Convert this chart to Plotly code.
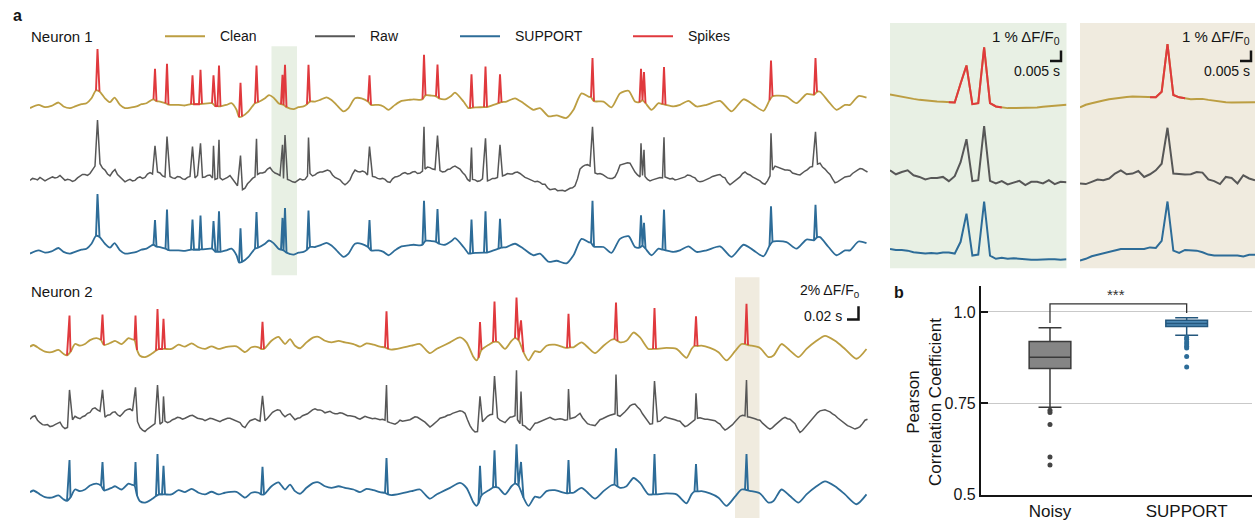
import plotly.graph_objects as go

W, H = 1255, 527
GOLD = "#BC9E42"
RED = "#E0393D"
GRAY = "#575757"
BLUE = "#2D6C98"
GREEN_BG = "#E8F0E4"
BEIGE_BG = "#F0EBDF"
FONT = "Liberation Sans, Arial, sans-serif"
INK = "#151515"

# ---------------- Neuron 1 (time in ms, signal in a.u.) ----------------
n1_t = [0,17,30,43,57,67,80,90,103,113,123,132,139,150,160,169,180,190,203,213,
        223,233,243,247,253,260,271,277,297,310,322,328,338,344,360,364,371,375,381,393,
        403,413,418,424,437,447,450,456,470,478,487,497,502,507,513,527,537,547,554,560,
        570,580,593,603,613,627,637,650,663,676,682,697,707,717,730,743,757,767,780,785,
        791,803,812,818,830,843,850,867,877,880,886,893,908,914,927,937,943,953,970,987,
        1007,1020,1037,1053,1073,1087,1103,1117,1122,1128,1147,1163,1180,1197,1210,1219,1225,1231,1243,1257,
        1265,1271,1287,1300,1317,1333,1353,1380,1403,1427,1447,1467,1479,1485,1493,1513,1533,1553,1568,1574,
        1580,1597,1613,1630,1640,1657,1673]
n1_clean = [15,18.3,16,17.3,20.7,16.7,15,16.7,19,20,25,33,32,25,21,25.7,18.3,15,15.7,16.7,
            19,20,23.3,24,22,21.7,20,18.5,18.3,17.7,19,19,19,19.3,20,20,17,17,16.7,18.3,
            20,13.3,6,6.5,11.7,18.3,20,21,25,28.3,25.7,20,19,18.3,16,14,16,16.7,19,21.7,
            21.7,23.3,26,23.3,18.3,11.7,15,25,25,21.7,18.3,18.3,16.7,13.3,18.3,22.3,23.3,24,23.3,24,
            28,27.7,27,25,24,27.7,30.7,21.7,15,15,15.5,15.7,16,16,18.3,20,21,21.7,25,20,
            13.3,15,6.7,7.7,5,13.3,30,26.7,26,22,21.7,15.7,30,32.7,21.7,21,23,20,13.3,20,
            19,18.3,16.7,18.3,22.3,16.7,18.3,22.3,11.7,24,18.3,12.3,23,27,27.7,26.7,20,29.3,28.5,31.5,
            31.7,21.7,13.3,18.3,18.3,27.3,25.7]
n1_spk_t = [135,250,274,325,341,367,378,421,453,505,510,557,679,788,815,883,911,940,1125,1222,1228,1268,1482,1571]
n1_spk_clean = [75,55,60,48.3,54,48.3,58.3,40.7,58.3,49,59,59,48.3,69.3,59.3,49.3,57.3,49.3,66,55,51.7,56.7,63.3,66]
n1_spk_raw = [77,50.7,60,50,53.3,50.7,56.7,40.7,57.7,51.7,61.7,59,50,70,61,49,58.3,51.7,70,53.3,46.7,59.3,63.3,65]
n1_spk_support = [75.7,49,59.7,49.7,53.7,48,58,40.7,57.3,51.3,61.3,58.7,49,68.7,60.3,49.7,58,50.3,68.7,54,46.3,59.7,63,64.7]
n1_raw_t = list(range(0, 1680, 5))
n1_raw = [15.5,17.5,17,16,18.5,17,15,16.5,17.5,19,18,18.5,20.5,17.5,15.5,16.5,16,14.5,15.5,18,
          19.5,21.5,21.5,20.5,22.5,27,30,32,32.5,28,26,22,20,24,26.5,21.5,19,15.5,14,15.5,
          16.5,15,15.5,18,19,17.5,18.5,22,23.5,22,22.5,24,23,20,19,20.5,19.5,18,17.5,19.5,
          19,17,16.5,18.5,19.5,17.5,18,20.5,20,18.5,19,20.5,21,18,16.5,17.5,18,16,17,18.5,
          20.5,17,14.5,10,7,6,7.5,12,14.5,17.5,19,21.5,23,23,24,27,28.5,25,23,22,
          20.5,18,16.5,16.5,15.5,14,13.5,15.5,17,16,16.5,20,22.5,20,21,23,24,24,25,26,
          25,21,18.5,17.5,16,13,11,13,16,22,26,24.5,24,25,24,21,18.5,19.5,19,17.5,
          17,17.5,16.5,14,13.5,17,19,19.5,20.5,22.5,23.5,22,22.5,24,24.5,22.5,23,25,27,29,
          28.5,27,26.5,26.5,25.5,24,24.5,26.5,27,29,30,28.5,27,23.5,21,16.5,14.5,16.5,16,14.5,
          15,17,16.5,15,16,17.5,17.5,18.5,19.5,20,21,22.5,22,22,23.5,24,22.5,20,18.5,17.5,
          16.5,15,14,14.5,13.5,11.5,11.5,8,6,6.5,7,5,5.5,5.5,4.5,6,7.5,8,10,17,
          27,29.5,31,31.5,30,26,23,22,22.5,21.5,20,18,17.5,17.5,19,24,31,32,32.5,33.5,
          33,28,24,21,19,20.5,19.5,16.5,15,16,17,17.5,18.5,18,19,18,17,17.5,16,16.5,
          17.5,18,19,21,20.5,19,18,15,14,14.5,15.5,17,18,19.5,20.5,21,21.5,19,18,13.5,
          11,13,15,17.5,19,22.5,24,22,21,19,17.5,16,15,12.5,11.5,15,20,26,30,29,
          28,27.5,26,26,25.5,23,22,21.5,21,23.5,25,26.5,29,29.5,30.5,32,33,29,27,24,
          21.5,17,13,14,15.5,17,19,19.5,20,22.5,24.5,26,27.5,27,25.5,24]
n1_raw_extra_t = [507]
n1_raw_extra = [17.5]

# ---------------- Neuron 2 ----------------
n2_t = [0,7,20,30,43,57,67,74,81,90,100,110,120,133,142,148,163,170,183,197,
        203,209,214,220,230,243,252,258,264,270,283,297,310,323,337,350,363,377,390,413,
        430,443,457,462,468,483,497,510,520,530,540,553,567,577,590,603,617,630,647,660,
        673,687,700,710,716,723,743,763,780,790,800,813,820,840,860,873,887,893,897,903,
        920,926,932,937,950,963,970,977,987,997,1010,1020,1033,1050,1067,1074,1080,1087,1103,1117,
        1130,1147,1163,1169,1175,1180,1193,1207,1220,1237,1246,1252,1273,1293,1313,1323,1329,1335,1343,1360,
        1377,1393,1410,1423,1430,1436,1443,1460,1477,1487,1503,1520,1537,1553,1573,1590,1610,1630,1653,1673]
n2_clean = [17.3,19,15,12.3,11.7,14,10,8.5,12,20,18.3,20,24,26,24,19,21.7,23.3,20,26,
            25,24,14,8,6.7,10,13.3,15,15,15,15,19.3,17.3,20.7,16.7,15,17.7,15,16.7,17.7,
            11.7,16.7,16.7,15,15,23.3,27.3,20,25,18.3,15.7,21.7,26.7,27.3,23.3,21.7,23.3,21.7,20,17.3,
            20.7,19.3,17.3,16.5,15,14.3,16,18.3,20,15,10.7,15,16.7,21.7,26.7,21.7,6.7,3.3,6,14,
            20,22,22.5,21.7,15,23.3,26,24,11.7,3.3,12.7,11.7,18.3,19.3,16.7,16,16.5,16.7,21.7,16,
            10.7,18.3,24.3,25,23,21.7,23.3,31.7,26.7,15,15,15,16,15,6,15,18,18,18.3,16,
            11.7,3.3,12.7,20,20,19,18.3,16,6.7,8.3,20,13.3,6.7,15,23.3,28.3,23.3,15,5,15]
n2_spk_t = [79,145,211,255,267,465,713,900,929,973,982,1077,1172,1249,1332,1433]
n2_spk_clean = [49,50,49,55.7,45.7,42.7,53.3,42.3,63.3,67.3,44,50.7,62.3,56.7,48.3,61]
n2_spk_raw = [47.3,47.3,50,52.3,40.7,41.3,52.3,40.7,61.3,67.3,45.7,48.3,63,56.3,44,57.3]
n2_spk_support = [50,48,48,56,44,43,52,44,60,66,48,50,62,56,46,56]
n2_raw_t = list(range(0, 1680, 5))
n2_raw = [17.5,20,21,16.5,14,12,11.5,12,10,10.5,12,13.5,14.5,10,8,9,13,17,20.5,19,
          18,20,21,23.5,24.5,28,29,27,25.5,21,19.5,21.5,22,24.5,25,22,20.5,23,26,27.5,
          28,26,24,15,9,6.5,5,7.5,9.5,11,13,12,12.5,14.5,15.5,14,15,17,18,19.5,
          19,17.5,18.5,20,21,21.5,20,18.5,18,17.5,16,17,18.5,18,17,16,15,16.5,17.5,18.5,
          18.5,17.5,16,15.5,14,10.5,9,13,16,17,18,16.5,15.5,15,16,18.5,22,24.5,26,27,
          26.5,22.5,20,22,23,19.5,17,18.5,19,21,22,23,25,27,28,27,27,26,24,25,
          25.5,24,23,23,24,23.5,22.5,21,21,20.5,20,18.5,17.5,19,20.5,19.5,19,18,18.5,18,
          17,17.5,16.5,15,14,13.5,12.5,14,16.5,15.5,16,17,17,18.5,20,19.5,18,16,14.5,12,
          9.5,11.5,13.5,16,18.5,19,20,21.5,22,23.5,24.5,25,26,25.5,23.5,17,11,7,4.5,5,
          12,15,18,20.5,22,22.5,22,19,16.5,15,14,17,19.5,20,21,17,13,11.5,10.5,8,
          6.5,10,13.5,14,15,16.5,17.5,18,19.5,18,17,17.5,18,17.5,16.5,17,18,19,19.5,21.5,
          23.5,19,15.5,13,12,11.5,11,14,17,18,19.5,20.5,21.5,22,23,21.5,20.5,22.5,25,28,
          31,32.5,33,30,27.5,23,19.5,15.5,12.5,13,14,15,15.5,18,20,19,18.5,18,17,16,
          15.5,12.5,10,11,13,15.5,17,18.5,19,18,17.5,17.5,17,16.5,16,14,12.5,9,6.5,8,
          10,12,15,18,20.5,21.5,21,20,19.5,19,18,17,16.5,13.5,11,9,7.5,9,11.5,14,
          16,18,19.5,18,17.5,15,13,8,4,6,9,12.5,16,19,21.5,24,26,26.5,27,26,
          25,23,21.5,19,17,14.5,12.5,11,10,9,7.5,8.5,10,13,16.5,17.5]
n2_raw_extra_t = []
n2_raw_extra = []

# ---------------- zoomed windows (sample index) ----------------
zg_clean = [17.3,16,14.7,13.7,12.7,11.7,11,10.3,10,9.7,9.3,9,28.3,46.7,7.3,8.3,65,8.3,5,4,
            3.3,3.3,3.3,3.3,3.7,4,4.7,5.3,6,6.3,6.7]
zg_raw = [20,16,18.3,20,15,13.3,10.7,12.3,12.3,13.3,9,14,28.3,51.7,9,10,65,9.3,6.7,9,
          5.7,7.7,9.3,5,8.3,8.3,6.7,10,6,8.3,8]
zg_support = [16.7,15.7,15.7,15,13.3,12.7,12,12.7,12,13,13,12,24,52.7,10,11,65,10,6.7,7.7,
              6.7,7.3,6.7,5.7,5.7,5.7,6.3,6.3,6.3,5.7,6.3]
zg_spikes = [13, 16]
zb_clean = [4,6.7,8.3,10,11,12.3,13.3,14.3,14.7,15,14.7,14.3,14.3,14.3,20,68.3,16.7,14.3,13.3,12.3,
            12.7,12.7,11.7,10.7,10,9.3,9,9,9,9.3,9.3]
zb_raw = [6.7,6,8.3,10.7,10,11.7,16.7,20,16,16.7,19.3,13.3,16,20,26.7,63.3,16.7,16,15.7,16,
          18.3,17.7,10.7,9,6,13.3,12.3,6.7,15,11.7,10]
zb_support = [5,6.7,9.3,10.7,11.7,13.3,15,16.7,16.7,16.7,16.7,16.7,18.3,17.7,25,65,15,12.7,15.7,15.7,
              15,13.3,11,10,10,10.7,10,10,9,10.7,10.7]
zb_spikes = [15]

# ---------------- box plot statistics ----------------
box_labels = ["Noisy", "SUPPORT"]
box_q1 = [0.845, 0.960]
box_median = [0.876, 0.9685]
box_q3 = [0.919, 0.977]
box_low = [0.739, 0.936]
box_high = [0.957, 0.984]
noisy_outliers = [0.731, 0.725, 0.692, 0.603, 0.581]
support_outliers = [0.930, 0.925, 0.918, 0.912, 0.906, 0.901, 0.878, 0.849]


def px(x):
    return x / W


def py(y):
    return 1 - y / H


def merge(bt, bv, st, sv, et=(), ev=(), skip=1.2):
    pts = [(t, v, False) for t, v in zip(bt, bv) if min(abs(t - s) for s in st) > skip]
    pts += [(t, v, False) for t, v in zip(et, ev)]
    pts += [(t, v, True) for t, v in zip(st, sv)]
    pts.sort(key=lambda p: p[0])
    return pts


def spike_segments(pts, off):
    n = len(pts)
    keep = [False] * n
    for i, p in enumerate(pts):
        if p[2]:
            for j in (i - 1, i, i + 1):
                if 0 <= j < n:
                    keep[j] = True
    xs, ys = [], []
    for i, p in enumerate(pts):
        if keep[i]:
            xs.append(p[0])
            ys.append(p[1] - off)
        elif xs and xs[-1] is not None:
            xs.append(None)
            ys.append(None)
    return xs, ys


fig = go.Figure()


def add_line(xs, ys, color, xa="x", ya="y", width=1.8, shape="linear"):
    fig.add_trace(go.Scatter(x=xs, y=ys, mode="lines",
                             line=dict(color=color, width=width, shape=shape, smoothing=0.7),
                             xaxis=xa, yaxis=ya, hoverinfo="skip", connectgaps=False))


def smooth_with_spikes(bt, bv, st, sv, off, base_color, spike_color):
    pts = merge(bt, bv, st, sv)
    base = [p for p in pts if not p[2]]
    add_line([p[0] for p in base], [p[1] - off for p in base], base_color, shape="spline")
    xs, ys = spike_segments(pts, off)
    add_line(xs, ys, spike_color, width=1.9)


def neuron(bt, clean, st, sc, sr, ss, rt, raw, et, ev, ref):
    smooth_with_spikes(bt, clean, st, sc, ref, GOLD, RED)
    pr = merge(rt, raw, st, sr, et, ev)
    add_line([p[0] for p in pr], [p[1] - ref - 74 for p in pr], GRAY, width=1.5)
    smooth_with_spikes(bt, clean, st, ss, ref + 148, BLUE, BLUE)


neuron(n1_t, n1_clean, n1_spk_t, n1_spk_clean, n1_spk_raw, n1_spk_support,
       n1_raw_t, n1_raw, n1_raw_extra_t, n1_raw_extra, 125)
neuron(n2_t, n2_clean, n2_spk_t, n2_spk_clean, n2_spk_raw, n2_spk_support,
       n2_raw_t, n2_raw, n2_raw_extra_t, n2_raw_extra, 370)


def zoom_panel(clean, raw, sup, spikes, xa, ya):
    idx = list(range(len(clean)))
    add_line(idx, [v - 113.3 for v in clean], GOLD, xa, ya, 2)
    lo, hi = min(spikes) - 3, max(spikes) + 3
    add_line(idx, [v - 113.3 if lo <= i <= hi else None for i, v in enumerate(clean)], RED, xa, ya, 2)
    add_line(idx, [v - 193.3 for v in raw], GRAY, xa, ya, 2)
    add_line(idx, [v - 270 for v in sup], BLUE, xa, ya, 2)


zoom_panel(zg_clean, zg_raw, zg_support, zg_spikes, "x2", "y2")
zoom_panel(zb_clean, zb_raw, zb_support, zb_spikes, "x3", "y3")

# box plot
fills = ["#858585", "#4D89B5"]
lines = ["#3A3A3A", "#24577D"]
for i in range(2):
    fig.add_trace(go.Box(x=[i], q1=[box_q1[i]], median=[box_median[i]], q3=[box_q3[i]],
                         lowerfence=[box_low[i]], upperfence=[box_high[i]],
                         width=0.305, whiskerwidth=0.55, fillcolor=fills[i],
                         line=dict(color=lines[i], width=1.5), boxpoints=False,
                         xaxis="x4", yaxis="y4", hoverinfo="skip"))
fig.add_trace(go.Scatter(x=[0] * len(noisy_outliers), y=noisy_outliers, mode="markers",
                         marker=dict(color="#444444", size=5), xaxis="x4", yaxis="y4"))
fig.add_trace(go.Scatter(x=[1] * len(support_outliers), y=support_outliers, mode="markers",
                         marker=dict(color="#2D6C98", size=5), xaxis="x4", yaxis="y4"))

shapes = []
shapes.append(dict(type="rect", xref="x", yref="y", x0=483, x1=534, y0=-280, y1=-47,
                   fillcolor=GREEN_BG, line_width=0, layer="below"))
shapes.append(dict(type="rect", xref="x", yref="y", x0=1410, x1=1459, y0=-527, y1=-282,
                   fillcolor=BEIGE_BG, line_width=0, layer="below"))
for xa, col in (("x2", GREEN_BG), ("x3", BEIGE_BG)):
    ya = "y" + xa[1:]
    shapes.append(dict(type="rect", xref=xa + " domain", yref=ya + " domain", x0=0, x1=1, y0=0, y1=1,
                       fillcolor=col, line_width=0, layer="below"))

legend_items = [("Clean", GOLD, 165), ("Raw", GRAY, 315), ("SUPPORT", BLUE, 460), ("Spikes", RED, 633)]
annotations = []
for name, col, x0 in legend_items:
    shapes.append(dict(type="line", xref="paper", yref="paper", x0=px(x0), x1=px(x0 + 40),
                       y0=py(37), y1=py(37), line=dict(color=col, width=2)))
    annotations.append(dict(text=name, x=px(x0 + 53), y=py(37), xanchor="left", yanchor="middle"))


def scalebar(xr, ytop, ybot, xleft):
    shapes.append(dict(type="path", xref="paper", yref="paper",
                       path=f"M {px(xr)},{py(ytop)} L {px(xr)},{py(ybot)} L {px(xleft)},{py(ybot)}",
                       line=dict(color=INK, width=2.5)))


scalebar(858.5, 311.5, 325, 847)
scalebar(1061, 51.5, 62, 1050)
scalebar(1251, 51.5, 62, 1240)

annotations += [
    dict(text="<b>a</b>", x=px(11), y=py(16), xanchor="left", yanchor="middle", font=dict(size=16)),
    dict(text="<b>b</b>", x=px(892), y=py(298), xanchor="left", yanchor="middle", font=dict(size=16)),
    dict(text="Neuron 1", x=px(29), y=py(37), xanchor="left", yanchor="middle", font=dict(size=15)),
    dict(text="Neuron 2", x=px(29), y=py(297), xanchor="left", yanchor="middle", font=dict(size=15)),
    dict(text="2% ΔF/F<sub>0</sub>", x=px(862), y=py(296), xanchor="right", yanchor="middle"),
    dict(text="0.02 s", x=px(844), y=py(321), xanchor="right", yanchor="middle"),
    dict(text="1 % ΔF/F<sub>0</sub>", x=px(1062), y=py(38), xanchor="right", yanchor="middle", font=dict(size=15)),
    dict(text="0.005 s", x=px(1062), y=py(72), xanchor="right", yanchor="middle"),
    dict(text="1 % ΔF/F<sub>0</sub>", x=px(1252), y=py(38), xanchor="right", yanchor="middle", font=dict(size=15)),
    dict(text="0.005 s", x=px(1252), y=py(72), xanchor="right", yanchor="middle"),
    dict(text="Pearson<br>Correlation Coefficient", x=px(924), y=py(409), textangle=-90,
         xanchor="center", yanchor="middle", font=dict(size=17)),
    dict(text="***", x=0.48, y=1.047, xref="x4", yref="y4", xanchor="center", yanchor="middle",
         font=dict(size=15, color="#333333")),
]
for a in annotations:
    a.setdefault("xref", "paper")
    a.setdefault("yref", "paper")
    a["showarrow"] = False

shapes.append(dict(type="path", xref="x4", yref="y4", path="M 0,0.970 L 0,1.022 L 1,1.022 L 1,0.997",
                   line=dict(color="#333333", width=1.3)))

hidden = dict(visible=False, showgrid=False, zeroline=False, fixedrange=True)
fig.update_layout(
    width=W, height=H, margin=dict(l=0, r=0, t=0, b=0),
    paper_bgcolor="white", plot_bgcolor="rgba(0,0,0,0)",
    showlegend=False,
    font=dict(family=FONT, size=14, color=INK),
    xaxis=dict(domain=[px(30), px(868)], range=[0, 1676], **hidden),
    yaxis=dict(domain=[0, 1], range=[-H, 0], **hidden),
    xaxis2=dict(domain=[px(890), px(1066.5)], range=[0, 30], anchor="y2", **hidden),
    yaxis2=dict(domain=[py(273), py(23.5)], range=[-273, -23.5], anchor="x2", **hidden),
    xaxis3=dict(domain=[px(1080), px(1255)], range=[0, 30], anchor="y3", **hidden),
    yaxis3=dict(domain=[py(273), py(23.5)], range=[-273, -23.5], anchor="x3", **hidden),
    xaxis4=dict(domain=[px(980.7), px(1252)], range=[-0.507, 1.478], anchor="y4",
                tickvals=[0, 1], ticktext=box_labels, ticks="", showline=True,
                linecolor=INK, linewidth=1.5, showgrid=False, zeroline=False,
                tickfont=dict(size=17)),
    yaxis4=dict(domain=[py(503.3), py(291.3)], range=[0.5, 1.07], anchor="x4",
                tickvals=[0.5, 0.75, 1.0], ticktext=["0.5", "0.75", "1.0"],
                ticks="inside", ticklen=8, tickwidth=1.5, tickcolor=INK,
                showline=True, linecolor=INK, linewidth=1.5,
                showgrid=True, gridcolor="#C9C9C9", gridwidth=1, zeroline=False,
                tickfont=dict(size=16)),
    shapes=shapes, annotations=annotations,
)

fig.write_html("out.html")
